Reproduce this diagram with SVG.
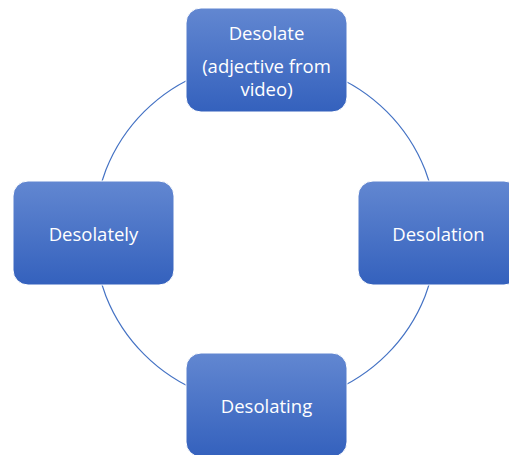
<svg xmlns="http://www.w3.org/2000/svg" width="509" height="455" viewBox="0 0 509 455">
<defs>
<linearGradient id="g" x1="0" y1="0" x2="0" y2="1">
<stop offset="0" stop-color="#6287d1"/>
<stop offset="1" stop-color="#3461bd"/>
</linearGradient>
<style>
.box{fill:url(#g);stroke:#ffffff;stroke-width:1}
.t{font-family:"Open Sans","Liberation Sans",sans-serif;font-size:18.5px;fill:#ffffff;text-anchor:middle;dominant-baseline:central}
.c{fill:none;stroke:#4472c4;stroke-width:1.2}
</style>
</defs>
<rect width="509" height="455" fill="#ffffff"/>
<g id="connectors">
<circle class="c" cx="265.5" cy="233" r="171.6"/>
</g>
<g id="n-desolate">
<rect class="box" x="186" y="8" width="161" height="104" rx="15"/>
<text class="t" x="266.5" y="32">Desolate</text>
<text class="t" x="266.5" y="65">(adjective from</text>
<text class="t" x="266.5" y="88">video)</text>
</g>
<g id="n-desolation">
<rect class="box" x="358" y="181" width="161" height="104" rx="15"/>
<text class="t" x="438.5" y="233">Desolation</text>
</g>
<g id="n-desolating">
<rect class="box" x="186" y="353" width="161" height="104" rx="15"/>
<text class="t" x="266.5" y="405">Desolating</text>
</g>
<g id="n-desolately">
<rect class="box" x="13" y="181" width="161" height="104" rx="15"/>
<text class="t" x="93.5" y="233">Desolately</text>
</g>
</svg>
